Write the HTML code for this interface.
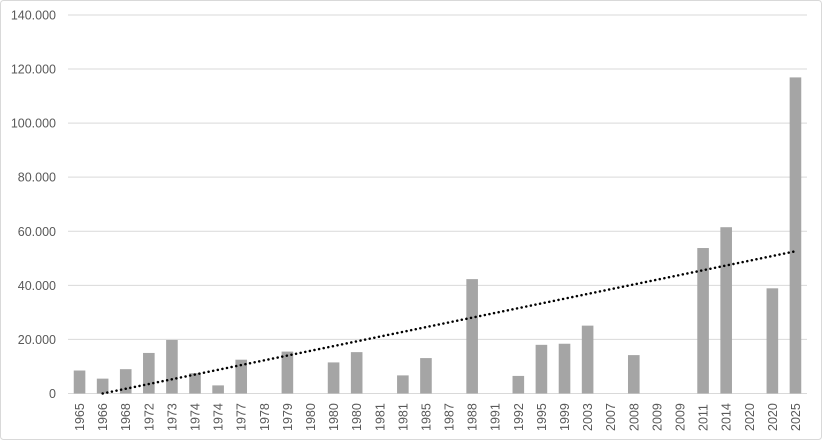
<!DOCTYPE html>
<html><head><meta charset="utf-8"><style>
html,body{margin:0;padding:0;background:#fff}
svg{display:block}
text{font-family:"Liberation Sans",sans-serif;font-size:12.5px;fill:#595959}
</style></head><body>
<svg width="822" height="440" viewBox="0 0 822 440" xmlns="http://www.w3.org/2000/svg">
<rect x="0.5" y="0.5" width="821" height="439" rx="3" fill="#fff" stroke="#d9d9d9"/>
<g id="g"></g>
</svg>
<script>
const labels=["1965","1966","1968","1972","1973","1974","1974","1977","1978","1979","1980","1980","1980","1981","1981","1985","1987","1988","1991","1992","1995","1999","2003","2007","2008","2009","2009","2011","2014","2020","2020","2025"];
const vals=[8.5,5.5,9,15,19.8,7.5,3,12.5,0,15.5,0,11.5,15.3,0,6.7,13.1,0,42.3,0,6.5,18,18.4,25.1,0,14.2,0,0,53.8,61.5,0,38.9,116.9];
const x0=68,x1=807,y0=393.5,k=2.704,cw=(x1-x0)/labels.length;
let s="";
for(let i=0;i<=7;i++){const y=y0-i*20*k;
 s+=`<line x1="${x0}" x2="${x1}" y1="${y}" y2="${y}" stroke="#d9d9d9" stroke-width="1"/>`;
 s+=`<text x="56" y="${y+4.5}" text-anchor="end">${i==0?"0":(i*20)+".000"}</text>`;}
labels.forEach((l,i)=>{const cx=x0+cw*(i+0.5);const h=vals[i]*k;
 if(h>0)s+=`<rect x="${cx-5.8}" y="${y0-h}" width="11.6" height="${h}" fill="#a5a5a5"/>`;
 s+=`<text transform="translate(${cx+4.5},${431}) rotate(-90)">${l}</text>`;});
const ax=x0+cw*1.5,bx=x0+cw*31.5;
s+=`<line x1="${ax}" y1="${y0}" x2="${bx}" y2="${y0-52.6*k}" stroke="#000" stroke-width="2.5" stroke-dasharray="0.1 4.6" stroke-linecap="round"/>`;
document.getElementById("g").innerHTML=s;
</script>
</body></html>
